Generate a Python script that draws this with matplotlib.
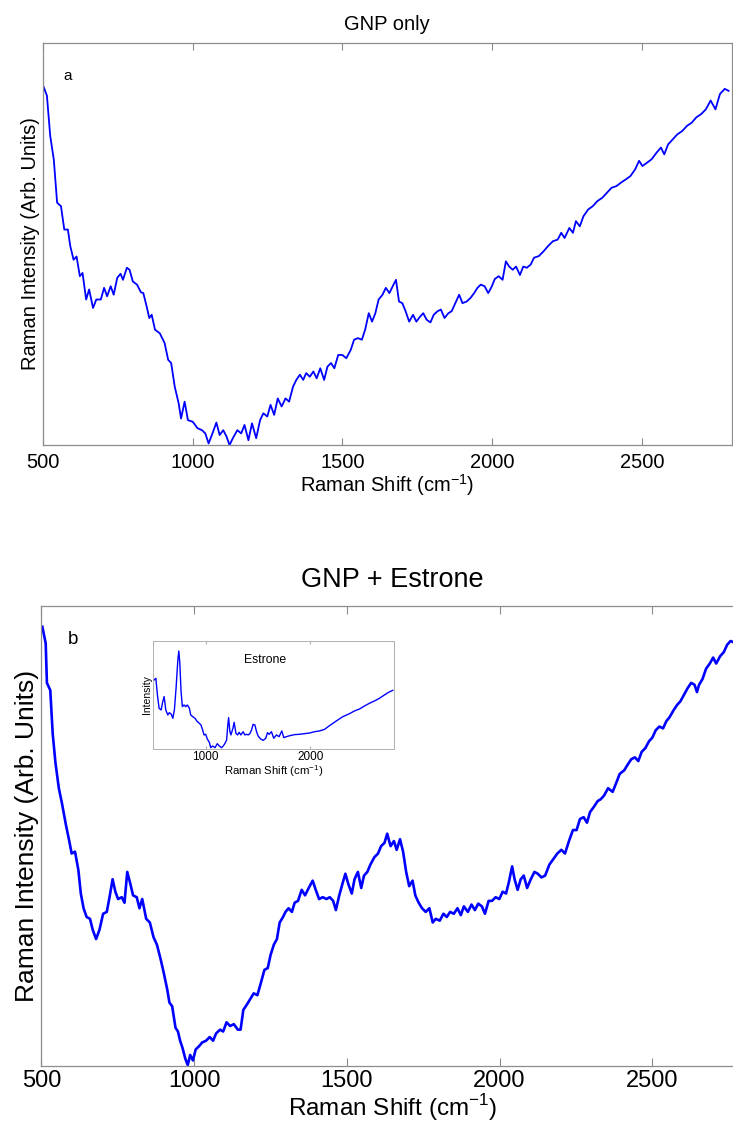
import matplotlib
matplotlib.use("Agg")
import matplotlib.pyplot as plt

plt.rcParams['font.family'] = ['Liberation Sans', 'DejaVu Sans']

# GNP only (panel a), intensity in arbitrary units (% of axis height)
GNP_X = [500, 513, 524, 536, 547, 560, 571, 583, 591, 602, 612, 623, 632, 644,
         654, 667, 678, 693, 704, 714, 726, 736, 748, 759, 767, 780, 789, 800,
         814, 827, 835, 846, 855, 863, 874, 890, 906, 918, 928, 940, 953, 961,
         973, 984, 1000, 1016, 1031, 1042, 1053, 1066, 1079, 1090, 1102, 1113,
         1123, 1134, 1149, 1162, 1173, 1186, 1198, 1212, 1225, 1236, 1249, 1260,
         1272, 1284, 1297, 1310, 1322, 1335, 1346, 1358, 1369, 1379, 1391, 1403,
         1414, 1426, 1439, 1450, 1462, 1473, 1486, 1500, 1513, 1528, 1539, 1552,
         1565, 1576, 1588, 1599, 1610, 1621, 1634, 1645, 1657, 1668, 1679, 1689,
         1700, 1711, 1723, 1736, 1747, 1759, 1770, 1781, 1794, 1805, 1818, 1829,
         1841, 1854, 1865, 1877, 1890, 1901, 1915, 1928, 1940, 1951, 1962, 1975,
         1987, 1998, 2009, 2022, 2035, 2046, 2057, 2069, 2080, 2093, 2104, 2116,
         2129, 2140, 2156, 2172, 2187, 2203, 2219, 2231, 2242, 2258, 2270, 2280,
         2293, 2305, 2321, 2336, 2352, 2368, 2384, 2399, 2415, 2431, 2447, 2462,
         2478, 2491, 2502, 2517, 2533, 2549, 2564, 2575, 2588, 2604, 2619, 2635,
         2651, 2667, 2682, 2698, 2714, 2730, 2746, 2761, 2777, 2790]
GNP_Y = [89.5, 86.9, 76.9, 71.0, 60.3, 59.4, 53.6, 53.6, 49.5, 46.1, 46.9, 42.0,
         42.8, 36.2, 38.7, 34.1, 36.2, 36.2, 39.1, 37.0, 39.5, 37.4, 41.6, 42.6,
         41.1, 44.1, 43.6, 40.7, 39.9, 38.0, 37.8, 34.5, 31.6, 32.4, 28.7, 27.8,
         25.4, 21.2, 20.4, 14.5, 10.4, 6.6, 10.8, 6.2, 5.8, 4.2, 3.7, 2.9, 0.4,
         2.9, 5.6, 2.5, 3.7, 2.1, 0.0, 1.7, 3.7, 2.9, 5.0, 1.2, 5.4, 1.7, 6.2,
         7.9, 7.1, 10.0, 7.5, 11.6, 9.6, 11.6, 10.8, 14.5, 16.2, 17.5, 16.2, 17.9,
         17.0, 18.3, 16.6, 19.1, 16.2, 19.5, 20.4, 19.1, 22.4, 22.4, 21.6, 23.7,
         26.2, 26.6, 26.2, 28.7, 32.8, 30.7, 32.8, 36.2, 37.4, 39.1, 37.8, 39.5,
         41.1, 35.7, 35.3, 33.3, 30.7, 32.4, 30.7, 31.9, 32.8, 31.2, 30.5, 32.4,
         33.3, 33.7, 31.6, 32.8, 33.3, 35.3, 37.4, 35.3, 35.7, 36.6, 37.8, 39.1,
         39.9, 39.5, 37.8, 39.3, 41.3, 42.0, 41.1, 45.7, 44.4, 43.6, 44.4, 42.3,
         44.4, 44.1, 44.9, 46.6, 47.0, 48.2, 49.5, 50.7, 51.1, 52.8, 51.5, 54.0,
         52.8, 55.7, 54.4, 56.9, 58.6, 59.4, 60.7, 61.5, 62.8, 64.0, 64.4, 65.3,
         66.1, 66.9, 68.6, 70.7, 69.4, 70.2, 71.1, 72.7, 74.0, 72.3, 74.8, 76.1,
         77.3, 78.1, 79.4, 80.2, 81.5, 82.3, 83.5, 85.7, 83.5, 87.3, 88.6, 88.1]

# GNP + Estrone (panel b)
MIX_X = [503, 514, 518, 529, 537, 546, 557, 567, 580, 590, 599, 610, 621, 629,
         638, 648, 659, 668, 679, 690, 702, 714, 723, 733, 742, 751, 763, 772,
         781, 790, 800, 812, 821, 830, 843, 855, 867, 878, 890, 901, 912, 919,
         928, 939, 947, 954, 962, 971, 979, 987, 996, 1005, 1016, 1026, 1039,
         1051, 1062, 1072, 1085, 1095, 1106, 1118, 1130, 1143, 1152, 1161, 1173,
         1184, 1195, 1207, 1219, 1230, 1241, 1250, 1261, 1271, 1280, 1291, 1299,
         1309, 1320, 1329, 1340, 1352, 1363, 1375, 1388, 1398, 1409, 1421, 1433,
         1444, 1455, 1464, 1475, 1485, 1495, 1505, 1516, 1525, 1536, 1547, 1556,
         1567, 1577, 1590, 1602, 1612, 1623, 1632, 1643, 1654, 1663, 1674, 1684,
         1694, 1704, 1715, 1724, 1735, 1746, 1758, 1770, 1781, 1791, 1804, 1816,
         1827, 1838, 1850, 1862, 1873, 1883, 1896, 1908, 1919, 1930, 1942, 1952,
         1964, 1975, 1987, 1999, 2010, 2021, 2030, 2041, 2049, 2059, 2069, 2079,
         2090, 2102, 2114, 2125, 2137, 2149, 2163, 2176, 2189, 2202, 2214, 2227,
         2240, 2252, 2263, 2275, 2286, 2296, 2309, 2321, 2331, 2342, 2355, 2370,
         2382, 2393, 2408, 2419, 2431, 2443, 2454, 2465, 2477, 2489, 2500, 2511,
         2523, 2535, 2546, 2556, 2569, 2581, 2592, 2602, 2615, 2627, 2638, 2646,
         2653, 2664, 2676, 2688, 2699, 2709, 2722, 2734, 2745, 2756, 2770]
MIX_Y = [95.5, 91.9, 83.3, 81.7, 72.2, 65.9, 60.4, 57.2, 52.5, 49.3, 46.2, 46.6,
         42.6, 37.5, 34.3, 32.4, 32.0, 29.6, 27.6, 29.6, 33.1, 33.5, 36.7, 40.6,
         37.9, 36.3, 36.7, 35.5, 42.2, 39.9, 37.1, 36.7, 34.3, 36.3, 32.0, 31.2,
         28.0, 26.4, 23.3, 20.1, 16.6, 13.8, 13.0, 8.3, 7.5, 5.5, 3.9, 1.6, 0.2,
         2.4, 1.2, 3.6, 4.3, 5.1, 5.5, 6.3, 5.5, 7.1, 7.9, 7.5, 9.5, 8.7, 9.1,
         7.9, 7.9, 12.2, 13.4, 14.6, 15.8, 15.4, 18.2, 20.9, 21.3, 24.1, 26.4,
         27.6, 31.2, 32.4, 33.5, 34.3, 33.5, 35.5, 35.9, 38.3, 37.1, 38.7, 40.3,
         38.3, 36.3, 36.7, 36.3, 36.7, 35.9, 33.9, 37.1, 39.5, 41.8, 39.5, 37.5,
         40.6, 42.2, 38.7, 41.4, 42.2, 43.8, 45.4, 46.2, 47.8, 48.5, 50.5, 47.8,
         48.9, 47.0, 49.3, 46.6, 42.2, 39.1, 40.3, 37.1, 35.5, 34.3, 33.5, 34.3,
         31.2, 32.0, 31.6, 33.1, 32.4, 33.5, 33.1, 34.3, 32.8, 34.7, 33.5, 35.1,
         33.9, 35.3, 34.7, 33.1, 35.9, 35.9, 36.7, 36.3, 37.9, 37.5, 39.9, 43.4,
         40.6, 38.3, 40.6, 41.4, 38.7, 40.6, 42.2, 41.8, 41.0, 41.4, 43.8, 45.0,
         46.2, 47.0, 46.2, 48.9, 51.3, 51.3, 53.7, 54.1, 52.9, 55.2, 56.4, 57.6,
         58.0, 58.8, 60.4, 59.6, 61.6, 63.5, 64.3, 65.5, 66.7, 67.1, 66.3, 68.3,
         69.1, 70.6, 71.4, 73.0, 73.8, 73.4, 75.0, 75.8, 77.3, 78.5, 79.3, 80.5,
         82.1, 83.3, 82.9, 81.3, 82.9, 84.1, 86.4, 87.5, 88.8, 87.5, 89.1, 90.0,
         91.6, 92.4, 92.0]

# Estrone reference spectrum (inset)
EST_X = [508, 524, 539, 555, 574, 590, 603, 619, 638, 653, 670, 686, 701, 717,
         733, 743, 752, 765, 777, 793, 810, 825, 844, 857, 876, 898, 920, 939,
         955, 971, 984, 1000, 1015, 1035, 1048, 1067, 1089, 1111, 1130, 1152,
         1168, 1184, 1200, 1210, 1219, 1231, 1241, 1260, 1272, 1289, 1305, 1320,
         1336, 1358, 1374, 1390, 1406, 1422, 1438, 1453, 1470, 1486, 1501, 1524,
         1549, 1574, 1590, 1606, 1628, 1650, 1676, 1701, 1727, 1746, 1771, 1803,
         1850, 1898, 1945, 1993, 2040, 2088, 2136, 2183, 2247, 2310, 2374, 2421,
         2469, 2517, 2564, 2612, 2660, 2707, 2748, 2787]
EST_Y = [63.9, 65.4, 50.0, 37.7, 36.1, 43.8, 48.5, 36.1, 31.5, 33.6, 32.4, 28.4,
         36.1, 56.2, 80.9, 90.7, 80.9, 53.1, 39.2, 40.7, 39.2, 40.7, 37.7, 31.5,
         29.9, 28.4, 25.3, 23.8, 22.2, 17.6, 13.0, 13.6, 9.3, 6.2, 1.2, 2.8, 1.2,
         4.9, 2.8, 1.2, 2.8, 5.2, 8.3, 20.7, 29.0, 16.0, 13.0, 19.1, 24.7, 14.5,
         13.0, 15.4, 13.0, 16.0, 13.0, 13.6, 13.0, 14.2, 17.6, 22.8, 22.2, 16.0,
         12.0, 9.3, 8.0, 9.9, 15.1, 13.6, 16.0, 9.9, 13.0, 11.4, 16.7, 10.5, 11.4,
         12.3, 13.3, 13.6, 14.2, 14.8, 16.0, 16.7, 18.2, 21.6, 25.9, 29.9, 32.7,
         35.2, 37.0, 39.8, 42.3, 44.4, 46.9, 50.0, 52.5, 54.3]

XTICKS = [500, 1000, 1500, 2000, 2500]
XLABEL = 'Raman Shift (cm$^{\\mathregular{-1}}$)'
BLUE = '#0000ff'
GREY = '#8c8c8c'


def style_axes(ax, size, length, pad):
    for s in ax.spines.values():
        s.set_color(GREY)
        s.set_linewidth(0.9)
    ax.set_yticks([])
    ax.tick_params(axis='x', direction='in', top=True, length=length,
                   color=GREY, labelsize=size, pad=pad)


def main():
    fig = plt.figure(figsize=(7.33, 11.29), dpi=100)

    # panel a
    ax1 = fig.add_axes([0.0587, 0.6058, 0.9394, 0.3561])
    ax1.plot(GNP_X, GNP_Y, color=BLUE, lw=1.3)
    ax1.set_xlim(500, 2800)
    ax1.set_ylim(0, 100)
    ax1.set_xticks(XTICKS)
    style_axes(ax1, 14.5, 5, 6)
    ax1.text(0.5, 1.047, 'GNP only', transform=ax1.transAxes, fontsize=14.5,
             ha='center', va='center')
    ax1.set_xlabel(XLABEL, fontsize=14.5, labelpad=0)
    ax1.set_ylabel('Raman Intensity (Arb. Units)', fontsize=14.5, labelpad=2)
    ax1.text(0.035, 0.919, 'a', transform=ax1.transAxes, fontsize=11,
             ha='center', va='center')

    # panel b
    ax2 = fig.add_axes([0.0565, 0.0558, 0.9585, 0.4074])
    ax2.plot(MIX_X, MIX_Y, color=BLUE, lw=1.9)
    ax2.set_xlim(500, 2800)
    ax2.set_ylim(0, 100)
    ax2.set_xticks(XTICKS)
    style_axes(ax2, 17, 6, 3)
    ax2.text(0.5, 1.057, 'GNP + Estrone', transform=ax2.transAxes,
             fontsize=19.5, ha='center', va='center')
    ax2.set_xlabel(XLABEL, fontsize=17.5, labelpad=0)
    ax2.set_ylabel('Raman Intensity (Arb. Units)', fontsize=19, labelpad=2)
    ax2.text(0.045, 0.928, 'b', transform=ax2.transAxes, fontsize=13.5,
             ha='center', va='center')

    # inset with the estrone spectrum
    ax3 = fig.add_axes([0.2092, 0.3366, 0.3285, 0.0957])
    ax3.plot(EST_X, EST_Y, color=BLUE, lw=1.0)
    ax3.set_xlim(500, 2800)
    ax3.set_ylim(0, 100)
    ax3.set_xticks([1000, 2000])
    for s in ax3.spines.values():
        s.set_color('#b0b0b0')
        s.set_linewidth(0.7)
    ax3.set_yticks([])
    ax3.tick_params(axis='x', direction='in', top=True, length=2,
                    color='#b0b0b0', labelsize=8.5, pad=1.5)
    ax3.set_xlabel(XLABEL, fontsize=8.2, labelpad=0)
    ax3.set_ylabel('Intensity', fontsize=7.5, labelpad=1)
    ax3.text(0.466, 0.82, 'Estrone', transform=ax3.transAxes, fontsize=8.8,
             ha='center', va='center')

    fig.savefig('out.png', dpi=100)


if __name__ == "__main__":
    main()
